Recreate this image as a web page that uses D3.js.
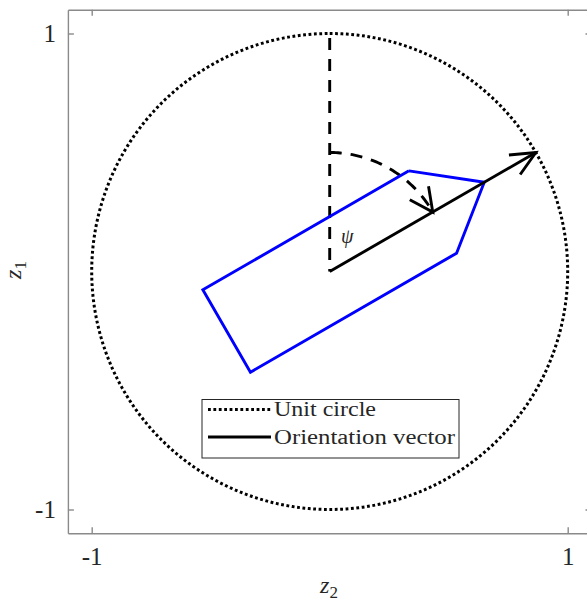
<!DOCTYPE html>
<html>
<head>
<meta charset="utf-8">
<script src="https://cdn.jsdelivr.net/npm/d3@7"></script>
<style>
  html, body { margin: 0; padding: 0; background: #fff; }
  svg { display: block; }
  text { font-family: "Liberation Serif", "DejaVu Serif", serif; fill: #262626; }
</style>
</head>
<body>
<svg id="chart" width="587" height="602"></svg>
<script>
// Axis ticks
const xTicks = [-1, 1];
const yTicks = [-1, 1];
const tickLabels = ["-1", "1"];

// Heading angle (radians, clockwise from the z1 axis)
const psi = Math.PI / 3;
// Orientation vector end point (unit length)
const vectorZ2 = [0, 0.866];
const vectorZ1 = [0, 0.5];
// Reference direction (z1 axis)
const refZ2 = [0, 0];
const refZ1 = [0, 1];
// Angle arc radius
const arcRadius = 0.5;
// Ship hull outline, closed polygon
const hullZ2 = [0.333, 0.6495, 0.533, -0.333, -0.533, 0.333];
const hullZ1 = [0.423, 0.375, 0.077, -0.423, -0.077, 0.423];

const legendLabels = ["Unit circle", "Orientation vector"];
const legendWidths = [102, 181];

const svg = d3.select("#chart");
const x = d3.scaleLinear().domain([-1.1, 1.1]).range([67.9, 591.5]);
const y = d3.scaleLinear().domain([-1.1, 1.1]).range([533.3, 9.7]);

const axisColor = "#8a8a8a";
const lw = 2.9;

// Axes box with inward ticks on all four sides
function styleAxis(g) {
  g.select(".domain").attr("stroke", axisColor).attr("stroke-width", 1.4);
  g.selectAll(".tick line").attr("stroke", axisColor).attr("stroke-width", 1.4);
  g.selectAll(".tick text")
    .style("font-family", '"Liberation Serif", serif')
    .style("font-size", "25px").attr("fill", "#262626");
}
svg.append("g").attr("transform", `translate(0,${y(-1.1)})`)
  .call(d3.axisBottom(x).tickValues(xTicks).tickSize(-6).tickSizeOuter(0)
    .tickPadding(14).tickFormat((d, i) => tickLabels[i]))
  .call(styleAxis);
svg.append("g").attr("transform", `translate(0,${y(1.1)})`)
  .call(d3.axisTop(x).tickValues(xTicks).tickSize(-6).tickSizeOuter(0).tickFormat(""))
  .call(styleAxis);
svg.append("g").attr("transform", `translate(${x(-1.1)},0)`)
  .call(d3.axisLeft(y).tickValues(yTicks).tickSize(-6).tickSizeOuter(0)
    .tickPadding(12).tickFormat((d, i) => tickLabels[i]))
  .call(styleAxis);
svg.append("g").attr("transform", `translate(${x(1.1)},0)`)
  .call(d3.axisRight(y).tickValues(yTicks).tickSize(-6).tickSizeOuter(0).tickFormat(""))
  .call(styleAxis);

// Axis labels
const xl = svg.append("text").attr("x", 329).attr("y", 593)
  .attr("text-anchor", "middle").style("font-size", "24px");
xl.append("tspan").style("font-style", "italic").text("z");
xl.append("tspan").attr("dy", 5).style("font-size", "17px").text("2");

const yl = svg.append("text").attr("transform", "translate(21,270) rotate(-90)")
  .attr("text-anchor", "middle").style("font-size", "24px");
yl.append("tspan").style("font-style", "italic").text("z");
yl.append("tspan").attr("dy", 5).style("font-size", "17px").text("1");

const plot = svg.append("g");
const line = d3.line().x(d => x(d[0])).y(d => y(d[1]));

// Unit circle (dotted)
const circlePts = d3.range(0, 361, 1).map(a => [Math.sin(a * Math.PI / 180), Math.cos(a * Math.PI / 180)]);
plot.append("path").attr("d", line(circlePts))
  .attr("fill", "none").attr("stroke", "#000").attr("stroke-width", 3)
  .attr("stroke-dasharray", "2.8,2.6");

// Reference direction (dashed)
plot.append("path").attr("d", line([[refZ2[1], refZ1[1]], [refZ2[0], refZ1[0]]]))
  .attr("fill", "none").attr("stroke", "#000").attr("stroke-width", lw)
  .attr("stroke-dasharray", "12,9").attr("stroke-dashoffset", 16.5);

// Angle arc (dashed) from the z1 axis to the heading
const arcPts = d3.range(0, 61, 1).map(a => {
  const t = a * Math.PI / 180;
  return [arcRadius * Math.sin(t), arcRadius * Math.cos(t)];
});
plot.append("path").attr("d", line(arcPts))
  .attr("fill", "none").attr("stroke", "#000").attr("stroke-width", lw)
  .attr("stroke-dasharray", "12,9");

// Open arrow head drawn as two strokes, in pixel space
function arrowHead(tipPx, dirAngle, len, spread) {
  const back = dirAngle + Math.PI;
  const pts = [
    [tipPx[0] + len * Math.cos(back + spread), tipPx[1] + len * Math.sin(back + spread)],
    tipPx,
    [tipPx[0] + len * Math.cos(back - spread), tipPx[1] + len * Math.sin(back - spread)]
  ];
  plot.append("path").attr("d", d3.line()(pts))
    .attr("fill", "none").attr("stroke", "#000").attr("stroke-width", lw)
    .attr("stroke-linejoin", "miter");
}
// Arc arrow: tangent pointing clockwise at angle psi
const arcTip = [x(arcRadius * Math.sin(psi)), y(arcRadius * Math.cos(psi))];
arrowHead(arcTip, Math.atan2(Math.sin(psi), Math.cos(psi)) - 0.1, 26, 0.46);

// Ship hull
plot.append("path").attr("d", line(hullZ2.map((v, i) => [v, hullZ1[i]])))
  .attr("fill", "none").attr("stroke", "#0000ff").attr("stroke-width", lw)
  .attr("stroke-linejoin", "miter");

// Orientation vector
plot.append("path").attr("d", line(vectorZ2.map((v, i) => [v, vectorZ1[i]])))
  .attr("fill", "none").attr("stroke", "#000").attr("stroke-width", lw);
const vTip = [x(vectorZ2[1]), y(vectorZ1[1])];
arrowHead(vTip, Math.atan2(y(vectorZ1[1]) - y(0), x(vectorZ2[1]) - x(0)), 27, 0.43);

// Angle label
plot.append("text").attr("x", 341).attr("y", 243)
  .style("font-style", "italic").style("font-size", "20px").attr("fill", "#000").text("ψ");

// Legend
const lg = svg.append("g");
lg.append("rect").attr("x", 202).attr("y", 399.5).attr("width", 257).attr("height", 58.5)
  .attr("fill", "#fff").attr("stroke", "#262626").attr("stroke-width", 1);
const rows = [409.5, 437];
lg.append("line").attr("x1", 208).attr("x2", 271).attr("y1", rows[0]).attr("y2", rows[0])
  .attr("stroke", "#000").attr("stroke-width", 3).attr("stroke-dasharray", "2.8,2.6");
lg.append("line").attr("x1", 208).attr("x2", 271).attr("y1", rows[1]).attr("y2", rows[1])
  .attr("stroke", "#000").attr("stroke-width", lw);
legendLabels.forEach((t, i) => {
  lg.append("text").attr("x", 274).attr("y", rows[i] + 6.5)
    .attr("textLength", legendWidths[i]).attr("lengthAdjust", "spacingAndGlyphs")
    .style("font-size", "20px").attr("fill", "#000").text(t);
});
</script>
</body>
</html>
